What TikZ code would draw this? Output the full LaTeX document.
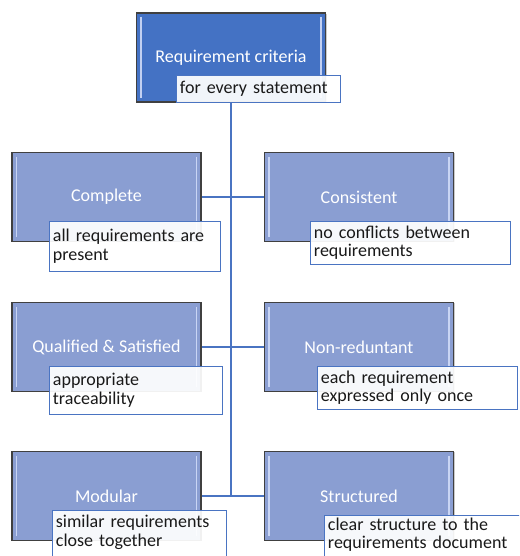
\documentclass[tikz,border=0pt]{standalone}
\usepackage{fontspec}
\setmainfont{Carlito}
\usetikzlibrary{shadows}
\definecolor{topblue}{HTML}{4472C4}
\definecolor{boxblue}{HTML}{8A9ED2}
\definecolor{linkblue}{HTML}{4A74C2}
\definecolor{hilite}{HTML}{D0DBF8}
\definecolor{rim}{HTML}{404040}
\tikzset{
  crit/.style={draw=rim, line width=1.1pt, fill=boxblue, minimum width=189pt, minimum height=89pt,
    inner sep=0pt, text=white, font=\fontsize{18}{18.5}\selectfont,
    drop shadow={shadow xshift=1pt, shadow yshift=-1pt, fill=black!35, opacity=0.6}},
  critop/.style={crit, fill=topblue},
  lbl/.style={draw=linkblue, line width=0.9pt, fill=white, fill opacity=0.93, text opacity=1,
    anchor=north west, align=left, inner xsep=3.5pt, inner ysep=0pt,
    text=black!90, font=\fontsize{18}{18.5}\selectfont},
  link/.style={draw=linkblue, line width=1.1pt},
  hl/.style={draw=hilite, line width=1.5pt, opacity=0.9}
}
\newcommand{\bevel}[1]{%
  \draw[hl] ([xshift=5pt,yshift=-5pt]#1.north west) -- ([xshift=5pt,yshift=5pt]#1.south west);
  \draw[hl] ([xshift=-5pt,yshift=-5pt]#1.north east) -- ([xshift=-5pt,yshift=5pt]#1.south east);}
\begin{document}
\begin{tikzpicture}[x=1pt,y=1pt]
\useasboundingbox (0,0) rectangle (519,556);
\begin{scope}
\clip (0,0) rectangle (519,556);
% connectors
\coordinate (j1) at (231,359);
\coordinate (j2) at (231,209);
\coordinate (j3) at (231,60);
\draw[link] (231,454) -- (j3);
\draw[link] (201,359) -- (265,359);
\draw[link] (201,209) -- (265,209);
\draw[link] (201,60) -- (265,60);
% boxes
\node[critop] (top) at (231,498.5) {Requirement criteria};
\node[crit] (c1) at (106.5,359) {Complete};
\node[crit] (c2) at (359,359) {Consistent};
\node[crit] (q1) at (106.5,209) {Qualified \& Satisfied};
\node[crit] (q2) at (359,209) {Non-reduntant};
\node[crit] (m1) at (106.5,60) {Modular};
\node[crit] (m2) at (359,60) {Structured};
\bevel{top}\bevel{c1}\bevel{c2}\bevel{q1}\bevel{q2}\bevel{m1}\bevel{m2}
% labels
\node[lbl, text width=157pt, minimum height=27pt] (ltop) at (176,481) {for every statement};
\node[lbl, text width=164pt, minimum height=50pt] (lc1) at (49,335) {all requirements are\\present};
\node[lbl, text width=193pt, minimum height=43pt] (lc2) at (310,335) {no conflicts between\\requirements};
\node[lbl, text width=166pt, minimum height=48pt] (lq1) at (49,190) {appropriate\\traceability};
\node[lbl, text width=193pt, minimum height=43pt] (lq2) at (317,190) {each requirement\\expressed only once};
\node[lbl, text width=167pt, inner ysep=5pt] (lm1) at (52,46) {similar requirements\\close together\\\mbox{}};
\node[lbl, text width=193pt, inner ysep=2.5pt] (lm2) at (324,41) {clear structure to the\\requirements document\\\mbox{}};
\draw[link] (ltop.south -| top.center) -- (j1);
\end{scope}
\end{tikzpicture}
\end{document}
